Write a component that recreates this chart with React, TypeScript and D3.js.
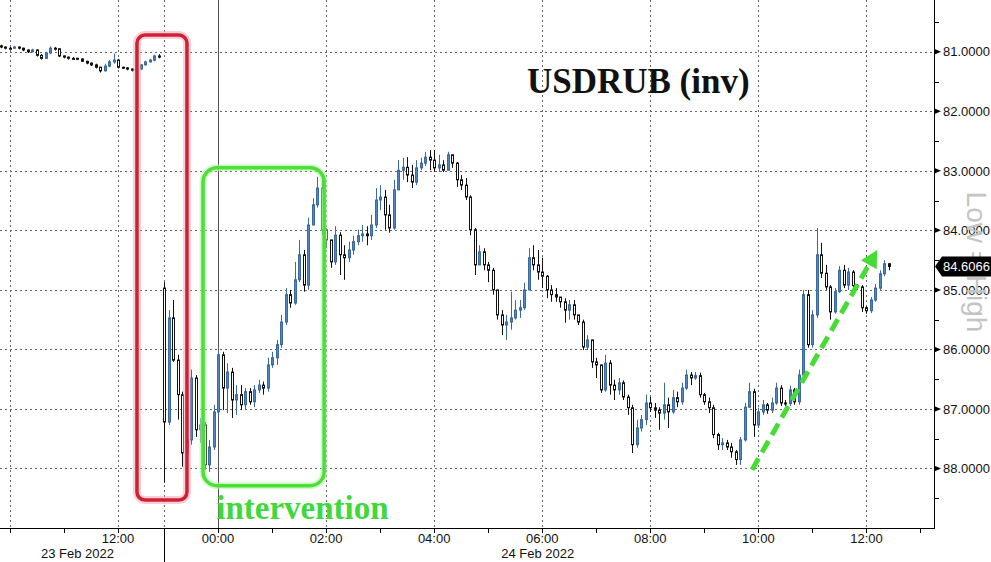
import { useRef, useEffect } from 'react';
import * as d3 from 'd3';

// USDRUB, 5-minute bars. Holiday session on 23 Feb, then the reopening into 24 Feb.
const barMinutes = 5;

const session1Start = new Date(2022, 1, 23, 9, 50);
const session1FirstOpen = 80.90;
const session1Close = [80.92, 80.94, 80.94, 80.92, 80.94, 80.97, 81.00, 80.97, 81.06, 81.11,
  81.02, 80.94, 80.95, 81.07, 81.09, 81.11, 81.11, 81.12, 81.16, 81.19,
  81.22, 81.26, 81.32, 81.24, 81.17, 81.14, 81.26, 81.27, 81.29, 81.31,
  81.29, 81.22, 81.17, 81.14, 81.07, 81.09];
const session1Low = [80.88, 80.91, 80.92, 80.90, 80.91, 80.93, 80.96, 80.95, 80.96, 81.04,
  81.00, 80.91, 80.92, 80.94, 81.06, 81.08, 81.09, 81.10, 81.11, 81.15,
  81.18, 81.20, 81.25, 81.20, 81.14, 81.03, 81.12, 81.25, 81.26, 81.28,
  81.28, 81.21, 81.15, 81.12, 81.05, 81.04];
const session1High = [80.94, 80.96, 80.96, 80.95, 80.96, 80.99, 81.02, 81.01, 81.08, 81.13,
  81.12, 81.04, 80.98, 81.09, 81.11, 81.13, 81.13, 81.14, 81.17, 81.21,
  81.24, 81.28, 81.35, 81.33, 81.26, 81.20, 81.28, 81.29, 81.31, 81.33,
  81.32, 81.30, 81.23, 81.18, 81.16, 81.11];

const session2Start = new Date(2022, 1, 23, 23, 0);
const session2FirstOpen = 84.97;
const session2Close = [87.22, 85.47, 86.18, 86.76, 87.74, 87.52, 86.48, 87.35, 87.27, 87.94,
  87.64, 87.05, 86.09, 86.65, 86.38, 86.85, 86.76, 86.93, 86.71, 86.88,
  86.68, 86.60, 86.65, 86.26, 86.14, 85.92, 85.54, 85.08, 85.22, 84.83,
  84.41, 84.92, 83.91, 83.57, 83.29, 83.99, 84.16, 84.53, 84.08, 84.41,
  84.46, 84.33, 84.19, 84.09, 84.06, 84.09, 83.91, 83.49, 83.44, 83.74,
  83.96, 83.32, 82.99, 82.94, 83.07, 83.19, 82.95, 82.87, 82.77, 82.82,
  82.95, 82.90, 82.99, 82.73, 82.87, 83.15, 83.24, 83.44, 83.99, 84.58,
  84.36, 84.58, 84.67, 85.00, 85.42, 85.59, 85.54, 85.47, 85.34, 85.30,
  85.00, 84.46, 84.58, 84.70, 84.77, 85.00, 85.08, 85.12, 85.20, 85.34,
  85.25, 85.42, 85.54, 85.96, 85.84, 86.21, 86.26, 86.68, 86.23, 86.60,
  86.68, 86.56, 86.80, 86.98, 87.60, 87.32, 87.18, 86.90, 86.98, 87.02,
  87.07, 86.93, 87.05, 86.81, 86.88, 86.65, 86.43, 86.48, 86.44, 86.76,
  86.88, 86.98, 87.43, 87.60, 87.57, 87.64, 87.72, 87.85, 87.52, 86.97,
  86.71, 87.27, 87.05, 86.93, 87.02, 86.90, 86.65, 86.90, 86.91, 86.68,
  86.88, 86.43, 85.08, 85.92, 85.42, 84.41, 84.72, 84.95, 85.37, 85.03,
  84.67, 84.92, 84.70, 84.93, 84.95, 85.30, 85.35, 85.17, 84.97, 84.73,
  84.56, 84.6066];
const session2Low = [84.87, 85.34, 85.17, 86.09, 86.71, 87.49, 86.34, 86.43, 87.15, 87.22,
  87.52, 86.93, 86.01, 86.04, 86.23, 86.31, 86.60, 86.60, 86.65, 86.65,
  86.60, 86.51, 86.54, 86.14, 86.04, 85.84, 85.42, 84.97, 85.00, 84.53,
  84.16, 84.33, 83.79, 83.46, 83.10, 83.15, 83.96, 84.16, 83.93, 84.03,
  84.25, 84.19, 84.09, 83.99, 83.91, 83.93, 83.74, 83.29, 83.24, 83.32,
  83.57, 83.15, 82.82, 82.78, 82.77, 82.90, 82.82, 82.78, 82.68, 82.65,
  82.65, 82.73, 82.82, 82.68, 82.73, 82.85, 83.07, 83.12, 83.41, 83.96,
  84.25, 84.30, 84.53, 84.63, 85.00, 85.34, 85.42, 85.03, 85.17, 85.17,
  84.88, 84.30, 84.25, 84.33, 84.46, 84.75, 84.92, 84.97, 85.12, 85.14,
  85.17, 85.17, 85.42, 85.50, 85.76, 85.84, 86.14, 86.26, 86.09, 86.18,
  86.51, 86.48, 86.52, 86.76, 86.93, 87.18, 87.10, 86.76, 86.80, 86.90,
  86.97, 86.56, 86.81, 86.68, 86.71, 86.56, 86.34, 86.38, 86.38, 86.39,
  86.73, 86.81, 86.93, 87.40, 87.49, 87.52, 87.57, 87.69, 87.47, 86.90,
  86.56, 86.66, 86.98, 86.85, 86.90, 86.81, 86.56, 86.60, 86.85, 86.61,
  86.65, 86.34, 85.00, 85.00, 85.34, 83.96, 84.21, 84.58, 84.92, 84.97,
  84.60, 84.58, 84.63, 84.67, 84.90, 84.92, 85.27, 85.12, 84.90, 84.67,
  84.50, 84.55];
const session2High = [88.24, 87.27, 86.21, 87.18, 87.97, 88.02, 87.60, 87.47, 87.57, 88.02,
  88.06, 87.69, 87.10, 87.02, 87.07, 87.15, 87.10, 87.02, 87.02, 86.93,
  86.97, 86.73, 86.76, 86.71, 86.31, 86.26, 85.97, 85.59, 85.30, 85.25,
  84.87, 85.03, 85.00, 83.91, 83.62, 84.08, 84.30, 84.63, 84.58, 84.75,
  84.83, 84.53, 84.41, 84.25, 84.19, 84.25, 84.16, 83.96, 83.66, 83.99,
  84.04, 83.99, 83.32, 83.15, 83.19, 83.29, 83.24, 82.99, 82.92, 82.99,
  83.02, 83.02, 83.02, 82.99, 82.95, 83.27, 83.32, 83.49, 84.08, 84.75,
  84.58, 84.67, 84.87, 85.08, 85.50, 85.76, 85.84, 85.67, 85.50, 85.47,
  85.34, 85.00, 84.67, 84.83, 84.97, 85.14, 85.20, 85.20, 85.30, 85.55,
  85.50, 85.50, 85.59, 86.01, 86.01, 86.31, 86.48, 86.73, 86.71, 86.76,
  86.85, 86.76, 86.85, 87.10, 87.74, 87.65, 87.38, 87.27, 87.05, 87.15,
  87.35, 87.18, 87.32, 87.08, 86.97, 86.93, 86.68, 86.60, 86.51, 86.81,
  86.93, 87.07, 87.49, 87.69, 87.69, 87.69, 87.82, 87.94, 87.94, 87.55,
  86.98, 87.47, 87.32, 87.10, 87.08, 87.07, 86.93, 86.95, 86.95, 86.95,
  86.93, 86.93, 86.48, 85.97, 85.97, 85.47, 84.80, 85.00, 85.50, 85.40,
  85.05, 84.97, 85.00, 84.98, 85.00, 85.37, 85.40, 85.39, 85.20, 85.00,
  84.77, 84.67];

// axis ticks and labels
const yMajorTicks = [81, 82, 83, 84, 85, 86, 87, 88];
const yMinorTicks = [80.5, 81.5, 82.5, 83.5, 84.5, 85.5, 86.5, 87.5, 88.5];
const hourTicks = [
  new Date(2022, 1, 23, 10), new Date(2022, 1, 23, 11), new Date(2022, 1, 23, 12),
  ...d3.range(0, 14).map(h => new Date(2022, 1, 24, h)),
];
const xLabelTimes = [
  new Date(2022, 1, 23, 12), new Date(2022, 1, 24, 0), new Date(2022, 1, 24, 2),
  new Date(2022, 1, 24, 4), new Date(2022, 1, 24, 6), new Date(2022, 1, 24, 8),
  new Date(2022, 1, 24, 10), new Date(2022, 1, 24, 12),
];
const xLabels = ["12:00", "00:00", "02:00", "04:00", "06:00", "08:00", "10:00", "12:00"];
const gridTimes = [
  new Date(2022, 1, 23, 10), new Date(2022, 1, 23, 12), new Date(2022, 1, 23, 23),
  new Date(2022, 1, 24, 2), new Date(2022, 1, 24, 4), new Date(2022, 1, 24, 6),
  new Date(2022, 1, 24, 8), new Date(2022, 1, 24, 10), new Date(2022, 1, 24, 12),
];
const dayStart = new Date(2022, 1, 24, 0);
const sessionBreak = new Date(2022, 1, 23, 23, 0);
const dateLabels = ["23 Feb 2022", "24 Feb 2022"];
const dateLabelTimes = [new Date(2022, 1, 23, 11, 15), new Date(2022, 1, 24, 5, 55)];

interface Bar { time: Date; open: number; high: number; low: number; close: number; }

function buildBars(start: Date, firstOpen: number, closes: number[], lows: number[], highs: number[]): Bar[] {
  return closes.map((c, i) => {
    const open = i === 0 ? firstOpen : closes[i - 1];
    return {
      time: new Date(start.getTime() + i * barMinutes * 60000),
      open,
      close: c,
      low: Math.min(lows[i], open, c),
      high: Math.max(highs[i], open, c),
    };
  });
}

const bars = [
  ...buildBars(session1Start, session1FirstOpen, session1Close, session1Low, session1High),
  ...buildBars(session2Start, session2FirstOpen, session2Close, session2Low, session2High),
];

const width = 991;
const height = 562;
const plotRight = 934;
const plotBottom = 528;
const axisFont = "'Liberation Sans', Arial, sans-serif";

export default function App() {
  const svgRef = useRef<SVGSVGElement | null>(null);

  useEffect(() => {
    const svg = d3.select(svgRef.current);
    svg.selectAll("*").remove();

    // time axis with the overnight gap collapsed
    const x = d3.scaleTime()
      .domain([new Date(2022, 1, 23, 9, 49), new Date(2022, 1, 23, 12, 51), sessionBreak, new Date(2022, 1, 24, 13, 15)])
      .range([0, 164, 164, plotRight]);
    // inverted price axis: higher USDRUB lower on the page
    const y = d3.scaleLinear().domain([80.13, 89]).range([0, plotBottom]);

    svg.append("rect").attr("width", width).attr("height", height).attr("fill", "#fff");

    // grid
    const grid = svg.append("g");
    yMajorTicks.forEach(v => {
      grid.append("line")
        .attr("x1", 0).attr("x2", plotRight)
        .attr("y1", Math.round(y(v)) + 0.5).attr("y2", Math.round(y(v)) + 0.5)
        .attr("stroke", "#666").attr("stroke-dasharray", "2,3");
    });
    gridTimes.forEach(t => {
      const gx = Math.round(x(t)) + 0.5;
      grid.append("line")
        .attr("x1", gx).attr("x2", gx).attr("y1", 0).attr("y2", plotBottom)
        .attr("stroke", "#666").attr("stroke-dasharray", "2,3");
    });
    const dx = Math.round(x(dayStart)) + 0.5;
    grid.append("line")
      .attr("x1", dx).attr("x2", dx).attr("y1", 0).attr("y2", plotBottom)
      .attr("stroke", "#555");

    // candles
    const candles = svg.append("g");
    bars.forEach(d => {
      const px = Math.round(x(d.time));
      const up = d.close < d.open; // drawn rising on the inverted scale
      candles.append("line")
        .attr("x1", px + 0.5).attr("x2", px + 0.5)
        .attr("y1", y(d.low)).attr("y2", y(d.high))
        .attr("stroke", up ? "#3b6aa3" : "#111");
      const top = y(Math.min(d.open, d.close));
      const h = Math.max(1, Math.abs(y(d.close) - y(d.open)));
      candles.append("rect")
        .attr("x", px - 0.5).attr("y", top)
        .attr("width", 2).attr("height", h)
        .attr("fill", up ? "#5085c4" : "#fff")
        .attr("stroke", up ? "#3b6aa3" : "#111")
        .attr("stroke-width", 1);
    });

    // annotations
    const ann = svg.append("g");
    const redX0 = x(new Date(2022, 1, 23, 12, 21)), redX1 = x(new Date(2022, 1, 23, 23, 25, 30));
    const redY0 = y(80.72), redY1 = y(88.53);
    ann.append("rect")
      .attr("x", redX0).attr("y", redY0).attr("width", redX1 - redX0).attr("height", redY1 - redY0)
      .attr("rx", 8).attr("fill", "none").attr("stroke", "#f2a0aa").attr("stroke-width", 8).attr("opacity", 0.5);
    ann.append("rect")
      .attr("x", redX0).attr("y", redY0).attr("width", redX1 - redX0).attr("height", redY1 - redY0)
      .attr("rx", 8).attr("fill", "none").attr("stroke", "#cf2136").attr("stroke-width", 3.5);

    const grX0 = x(new Date(2022, 1, 23, 23, 43, 20)), grX1 = x(new Date(2022, 1, 24, 1, 57, 50));
    const grY0 = y(82.95), grY1 = y(88.29);
    ann.append("rect")
      .attr("x", grX0).attr("y", grY0).attr("width", grX1 - grX0).attr("height", grY1 - grY0)
      .attr("rx", 14).attr("fill", "none").attr("stroke", "#b6f2a8").attr("stroke-width", 7).attr("opacity", 0.6);
    ann.append("rect")
      .attr("x", grX0).attr("y", grY0).attr("width", grX1 - grX0).attr("height", grY1 - grY0)
      .attr("rx", 14).attr("fill", "none").attr("stroke", "#4be038").attr("stroke-width", 3.5);

    ann.append("text")
      .attr("x", x(new Date(2022, 1, 23, 23, 58))).attr("y", y(88.85))
      .attr("font-family", "'Liberation Serif', 'Times New Roman', serif")
      .attr("font-weight", "bold").attr("font-size", 33)
      .attr("fill", "#3fd93c")
      .text("intervention");

    // dashed trend arrow
    const p0: [number, number] = [x(new Date(2022, 1, 24, 9, 53)), y(88.02)];
    const p1: [number, number] = [x(new Date(2022, 1, 24, 12, 12)), y(84.33)];
    const len = Math.hypot(p1[0] - p0[0], p1[1] - p0[1]);
    const ux = (p1[0] - p0[0]) / len, uy = (p1[1] - p0[1]) / len;
    const headLen = 17, headHalf = 9;
    const bx = p1[0] - ux * headLen, by = p1[1] - uy * headLen;
    ann.append("line")
      .attr("x1", p0[0]).attr("y1", p0[1]).attr("x2", bx).attr("y2", by)
      .attr("stroke", "#45dc34").attr("stroke-width", 5).attr("stroke-dasharray", "13,7");
    ann.append("polygon")
      .attr("points", [
        [p1[0], p1[1]],
        [bx - uy * headHalf, by + ux * headHalf],
        [bx + uy * headHalf, by - ux * headHalf],
      ].map(p => p.join(",")).join(" "))
      .attr("fill", "#45dc34");

    ann.append("text")
      .attr("x", x(new Date(2022, 1, 24, 5, 43))).attr("y", y(81.69))
      .attr("font-family", "'Liberation Serif', 'Times New Roman', serif")
      .attr("font-weight", "bold").attr("font-size", 35)
      .attr("fill", "#111")
      .text("USDRUB (inv)");

    // axes
    const axes = svg.append("g");
    axes.append("line")
      .attr("x1", plotRight + 0.5).attr("x2", plotRight + 0.5).attr("y1", 0).attr("y2", plotBottom)
      .attr("stroke", "#000");
    axes.append("line")
      .attr("x1", 0).attr("x2", plotRight + 1).attr("y1", plotBottom + 0.5).attr("y2", plotBottom + 0.5)
      .attr("stroke", "#000");

    yMinorTicks.forEach(v => {
      const ty = Math.round(y(v)) + 0.5;
      axes.append("line")
        .attr("x1", plotRight).attr("x2", plotRight + 5).attr("y1", ty).attr("y2", ty)
        .attr("stroke", "#000");
    });
    yMajorTicks.forEach(v => {
      const ty = y(v);
      axes.append("polygon")
        .attr("points", `${plotRight},${ty - 3} ${plotRight + 7},${ty} ${plotRight},${ty + 3}`)
        .attr("fill", "#000");
    });

    hourTicks.forEach(t => {
      const tx = Math.round(x(t)) + 0.5;
      axes.append("line")
        .attr("x1", tx).attr("x2", tx).attr("y1", plotBottom).attr("y2", plotBottom + 5)
        .attr("stroke", "#000");
    });
    const sx = Math.round(x(sessionBreak)) + 0.5;
    axes.append("line")
      .attr("x1", sx).attr("x2", sx).attr("y1", plotBottom).attr("y2", height)
      .attr("stroke", "#000");

    xLabelTimes.forEach((t, i) => {
      axes.append("text")
        .attr("x", x(t)).attr("y", plotBottom + 15)
        .attr("text-anchor", "middle")
        .attr("font-family", axisFont).attr("font-size", 13).attr("fill", "#111")
        .text(xLabels[i]);
    });
    dateLabelTimes.forEach((t, i) => {
      axes.append("text")
        .attr("x", x(t)).attr("y", plotBottom + 30)
        .attr("text-anchor", "middle")
        .attr("font-family", axisFont).attr("font-size", 13).attr("fill", "#111")
        .text(dateLabels[i]);
    });

    // watermark-like side note
    svg.append("text")
      .attr("transform", `translate(967, 262) rotate(90)`)
      .attr("text-anchor", "middle")
      .attr("font-family", axisFont).attr("font-size", 28)
      .attr("fill", "#c4c4c4")
      .text("Low = High");

    const fmt = d3.format(".4f");
    yMajorTicks.forEach(v => {
      axes.append("text")
        .attr("x", plotRight + 9).attr("y", y(v)).attr("dy", "0.36em")
        .attr("font-family", axisFont).attr("font-size", 13).attr("fill", "#111")
        .text(fmt(v));
    });

    // last price tag
    const last = bars[bars.length - 1];
    const ly = y(last.close);
    svg.append("polygon")
      .attr("points", `${plotRight + 1},${ly} ${plotRight + 8},${ly - 10} ${width},${ly - 10} ${width},${ly + 10} ${plotRight + 8},${ly + 10}`)
      .attr("fill", "#000");
    svg.append("text")
      .attr("x", plotRight + 9).attr("y", ly).attr("dy", "0.36em")
      .attr("font-family", axisFont).attr("font-size", 13).attr("fill", "#fff")
      .text(fmt(last.close));
  }, []);

  return (
    <svg ref={svgRef} width={width} height={height}
      style={{ position: 'absolute', left: 0, top: 0, display: 'block' }} />
  );
}
